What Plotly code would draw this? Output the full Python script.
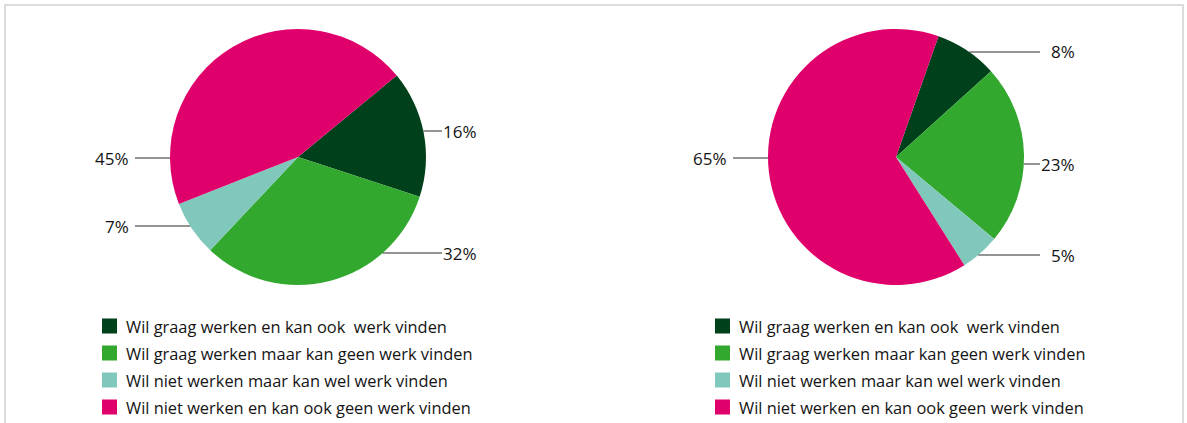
import math
import plotly.graph_objects as go

# ---- data ----
categories = [
    "Wil graag werken en kan ook\u00a0 werk vinden",
    "Wil graag werken maar kan geen werk vinden",
    "Wil niet werken maar kan wel werk vinden",
    "Wil niet werken en kan ook geen werk vinden",
]
values_left = [16, 32, 7, 45]
values_right = [8, 23, 5, 65]

# ---- style ----
colors = ["#00401a", "#33a82e", "#80c8bb", "#e0006b"]
W, H = 1187, 423
R = 128
CY = 157
CX_LEFT, CX_RIGHT = 298, 896
ROT_LEFT, ROT_RIGHT = 50.5, 19.4
# label vertical offsets (px from pie centre) and side, per slice
label_dy_left = [-26, 96, 69, 1]
label_side_left = ["r", "r", "l", "l"]
label_dy_right = [-105, 7, 98, 1]
label_side_right = ["r", "r", "r", "l"]
legend_x_left, legend_x_right = 102, 715
legend_y0, legend_step = 326, 27
FONT = "Open Sans, sans-serif"
TXT = "#141414"


def px(x):
    return x / W


def py(y):
    return 1 - y / H


fig = go.Figure()
shapes = []
annotations = []


def add_pie(values, cx, rot, dys, sides, leg_x):
    fig.add_trace(go.Pie(
        labels=categories, values=values, sort=False, direction="clockwise",
        rotation=rot, textinfo="none", showlegend=False,
        marker=dict(colors=colors, line=dict(width=0)),
        domain=dict(x=[px(cx - R), px(cx + R)], y=[py(CY + R), py(CY - R)]),
        hovertemplate="%{label}: %{value}%<extra></extra>",
    ))
    for v, dy, side in zip(values, dys, sides):
        y = CY + dy
        edge = math.sqrt(max(R * R - dy * dy, 0))
        if side == "r":
            x0, x1 = cx + edge, cx + 144
            tx = cx + 181
        else:
            x0, x1 = cx - 163, cx - edge
            tx = cx - 167
        shapes.append(dict(type="line", xref="paper", yref="paper",
                           x0=px(x0), x1=px(x1), y0=py(y), y1=py(y),
                           line=dict(color="#2a2a2a", width=1)))
        annotations.append(dict(xref="paper", yref="paper", x=px(tx), y=py(y),
                                xanchor="right", yanchor="middle", showarrow=False,
                                text=f"{v}%", font=dict(family=FONT, size=17, color=TXT)))
    # legend
    for i, (cat, col) in enumerate(zip(categories, colors)):
        y = legend_y0 + i * legend_step
        shapes.append(dict(type="rect", xref="paper", yref="paper",
                           x0=px(leg_x), x1=px(leg_x + 15),
                           y0=py(y - 7.5), y1=py(y + 7.5),
                           fillcolor=col, line=dict(width=0)))
        annotations.append(dict(xref="paper", yref="paper", x=px(leg_x + 22), y=py(y),
                                xanchor="left", yanchor="middle", showarrow=False,
                                text=cat, font=dict(family=FONT, size=16.4, color=TXT)))


add_pie(values_left, CX_LEFT, ROT_LEFT, label_dy_left, label_side_left, legend_x_left)
add_pie(values_right, CX_RIGHT, ROT_RIGHT, label_dy_right, label_side_right, legend_x_right)

# frame
shapes.append(dict(type="rect", xref="paper", yref="paper",
                   x0=px(5), x1=px(1183), y0=py(440), y1=py(5),
                   line=dict(color="#dcdcdc", width=2), layer="below"))

fig.update_layout(
    width=W, height=H, margin=dict(l=0, r=0, t=0, b=0),
    paper_bgcolor="white", plot_bgcolor="white",
    shapes=shapes, annotations=annotations, showlegend=False,
)
fig.write_html(
    "out.html",
    config={"displayModeBar": False},
    post_script="document.body.style.margin='0';document.body.style.overflow='hidden';",
)
